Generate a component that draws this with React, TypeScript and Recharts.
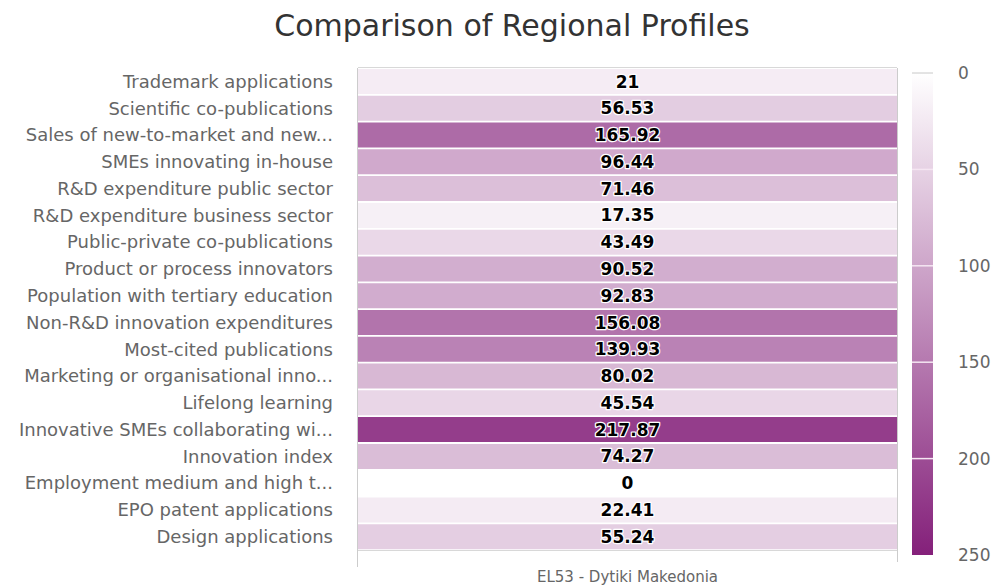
import { BarChart, Bar, XAxis, YAxis, Cell, LabelList } from "recharts";

const indicators = [
  "Trademark applications",
  "Scientific co-publications",
  "Sales of new-to-market and new...",
  "SMEs innovating in-house",
  "R&D expenditure public sector",
  "R&D expenditure business sector",
  "Public-private co-publications",
  "Product or process innovators",
  "Population with tertiary education",
  "Non-R&D innovation expenditures",
  "Most-cited publications",
  "Marketing or organisational inno...",
  "Lifelong learning",
  "Innovative SMEs collaborating wi...",
  "Innovation index",
  "Employment medium and high t...",
  "EPO patent applications",
  "Design applications",
];

const scores = [
  21, 56.53, 165.92, 96.44, 71.46, 17.35, 43.49, 90.52, 92.83, 156.08, 139.93, 80.02, 45.54,
  217.87, 74.27, 0, 22.41, 55.24,
];

const region = "EL53 - Dytiki Makedonia";
const colorTicks = [0, 50, 100, 150, 200, 250];

const MIN_COLOR = [255, 255, 255];
const MAX_COLOR = [132, 32, 122];
const FONT = "'DejaVu Sans', sans-serif";

function heatColor(v: number) {
  const t = Math.max(0, Math.min(1, v / 250));
  const c = MIN_COLOR.map((m, i) => Math.round(m + (MAX_COLOR[i] - m) * t));
  return `rgb(${c[0]},${c[1]},${c[2]})`;
}

const data = indicators.map((name, i) => ({ name, value: scores[i], cell: 1 }));

// plot box
const PL = 358;
const PR = 897;
const PT = 68;
const PB = 550;

// colour axis box
const CT = 73;
const CB = 555;
const CX = 912;
const CW = 21;

function ValueLabel(props: any) {
  const { x, y, width, height, value } = props;
  return (
    <text
      x={x + width / 2}
      y={y + height / 2}
      textAnchor="middle"
      dominantBaseline="central"
      fontFamily={FONT}
      fontSize={17}
      fontWeight="bold"
      fill="#000"
      stroke="#fff"
      strokeWidth={2.5}
      strokeLinejoin="round"
      style={{ paintOrder: "stroke" }}
    >
      {value}
    </text>
  );
}

function RegionLabel(props: any) {
  const { viewBox } = props;
  return (
    <text
      x={viewBox.x + viewBox.width / 2}
      y={577}
      textAnchor="middle"
      dominantBaseline="central"
      fontFamily={FONT}
      fontSize={15}
      fill="#666"
    >
      {region}
    </text>
  );
}

function ColorAxis() {
  const span = CB - CT;
  return (
    <svg width={998} height={587} style={{ position: "absolute", left: 0, top: 0, pointerEvents: "none" }}>
      <defs>
        <linearGradient id="ca" x1="0" y1="0" x2="0" y2="1">
          <stop offset="0%" stopColor={heatColor(0)} />
          <stop offset="100%" stopColor={heatColor(250)} />
        </linearGradient>
      </defs>
      <rect x={CX} y={CT} width={CW} height={span} fill="url(#ca)" />
      {colorTicks.map((t, i) => {
        const y = CT + (t / 250) * span;
        return (
          <g key={t}>
            {i > 0 && i < colorTicks.length - 1 && (
              <line x1={CX} x2={CX + CW} y1={y} y2={y} stroke="#f5e6f2" strokeWidth={1.5} />
            )}
            {i === 0 && <line x1={CX} x2={CX + CW} y1={y} y2={y} stroke="#c8c8c8" strokeWidth={1} />}
            <text x={958} y={y} dominantBaseline="central" fontFamily={FONT} fontSize={17} fill="#666">
              {t}
            </text>
          </g>
        );
      })}
      {/* frame around the single column */}
      <line x1={PL} x2={PR} y1={PT - 0.5} y2={PT - 0.5} stroke="#d8d8d8" />
      <line x1={PL - 0.5} x2={PL - 0.5} y1={PT} y2={567} stroke="#ccc" />
      <line x1={PR + 0.5} x2={PR + 0.5} y1={PT} y2={562} stroke="#ccc" />
      <line x1={PL} x2={PR} y1={PB + 0.5} y2={PB + 0.5} stroke="#d8d8d8" />
    </svg>
  );
}

export default function App() {
  return (
    <div style={{ position: "absolute", left: 0, top: 0, width: 998, height: 587, background: "#fff" }}>
      <div
        style={{
          position: "absolute",
          top: 8,
          left: 0,
          width: 1024,
          textAlign: "center",
          fontFamily: FONT,
          fontSize: 30,
          lineHeight: "36px",
          color: "#333",
        }}
      >
        Comparison of Regional Profiles
      </div>
      <BarChart
        width={998}
        height={587}
        data={data}
        layout="vertical"
        margin={{ top: PT, right: 998 - PR, bottom: 0, left: 0 }}
        barCategoryGap={1}
      >
        <XAxis
          type="number"
          domain={[0, 1]}
          tick={false}
          axisLine={false}
          tickLine={false}
          height={587 - PB}
          label={<RegionLabel />}
        />
        <YAxis
          type="category"
          dataKey="name"
          width={PL}
          axisLine={false}
          tickLine={false}
          tickSize={0}
          tickMargin={25}
          interval={0}
          tick={{ fill: "#666", fontSize: 18, fontFamily: FONT }}
        />
        <Bar dataKey="cell" isAnimationActive={false}>
          {data.map((d) => (
            <Cell key={d.name} fill={heatColor(d.value)} />
          ))}
          <LabelList dataKey="value" content={ValueLabel} />
        </Bar>
      </BarChart>
      <ColorAxis />
    </div>
  );
}
